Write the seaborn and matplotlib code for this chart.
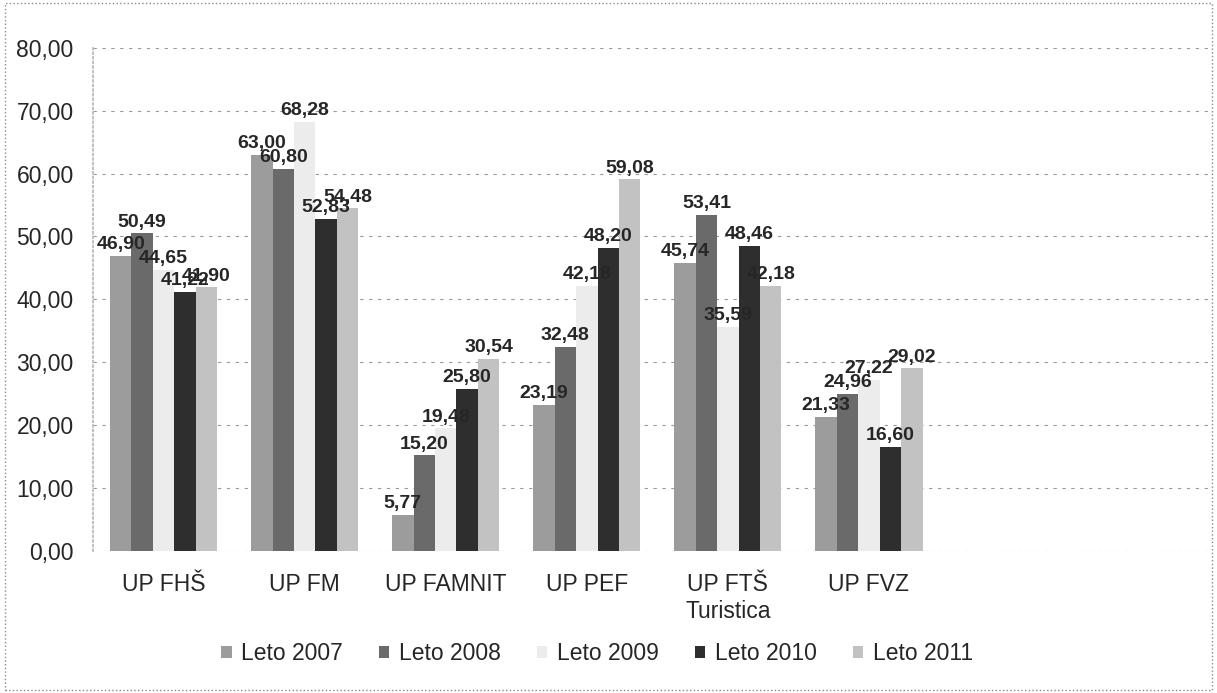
import pandas as pd
import seaborn as sns
import matplotlib.pyplot as plt
from matplotlib.patches import Rectangle

# podatki
fakultete = ["UP FHŠ", "UP FM", "UP FAMNIT", "UP PEF", "UP FTŠ\nTuristica", "UP FVZ"]
leta = ["Leto 2007", "Leto 2008", "Leto 2009", "Leto 2010", "Leto 2011"]
leto_2007 = [46.90, 63.00, 5.77, 23.19, 45.74, 21.33]
leto_2008 = [50.49, 60.80, 15.20, 32.48, 53.41, 24.96]
leto_2009 = [44.65, 68.28, 19.48, 42.18, 35.59, 27.22]
leto_2010 = [41.22, 52.83, 25.80, 48.20, 48.46, 16.60]
leto_2011 = [41.90, 54.48, 30.54, 59.08, 42.18, 29.02]
barve = ["#9c9c9c", "#6a6a6a", "#ececec", "#2e2e2e", "#c2c2c2"]

vrednosti = [leto_2007, leto_2008, leto_2009, leto_2010, leto_2011]
rows = []
for leto, vals in zip(leta, vrednosti):
    for fak, v in zip(fakultete, vals):
        rows.append({"Fakulteta": fak, "Leto": leto, "Vrednost": v})
df = pd.DataFrame(rows)

sns.set_theme(style="white")
plt.rcParams['font.family'] = ['Liberation Sans', 'DejaVu Sans']

fig = plt.figure(figsize=(12.17, 6.93), dpi=100)
ax = fig.add_axes([0.0765, 0.205, 0.918, 0.726])

sns.barplot(data=df, x="Fakulteta", y="Vrednost", hue="Leto", order=fakultete,
            hue_order=leta, palette=barve, width=0.76, ax=ax, legend=True,
            edgecolor="none", saturation=1)

# oznake nad stolpci
for cont in ax.containers:
    lab = [f"{b.get_height():.2f}".replace(".", ",") for b in cont]
    ax.bar_label(cont, labels=lab, fontsize=14, fontweight="bold", padding=2, clip_on=False)

ax.set_xlim(-0.5, 7.42)
ax.set_ylim(0, 80)
ax.set_yticks(range(0, 81, 10))
ax.set_yticklabels([f"{t:.2f}".replace(".", ",") for t in range(0, 81, 10)], fontsize=16.5)
ax.set_xlabel("")
ax.set_ylabel("")
ax.tick_params(axis="x", labelsize=16.5, length=0, pad=16)
ax.tick_params(axis="y", length=0, pad=14)

ax.yaxis.grid(True, linestyle=(0, (3, 5)), color="#9a9a9a", linewidth=0.8)
ax.set_axisbelow(True)
for s in ["top", "right", "bottom"]:
    ax.spines[s].set_visible(False)
ax.spines["left"].set_color("#b8b8b8")
ax.spines["left"].set_linestyle(":")

leg = ax.legend(loc="center", bbox_to_anchor=(597 / 1217, 1 - 654 / 693),
                bbox_transform=fig.transFigure, ncol=5, frameon=False, fontsize=16.5,
                handlelength=0.45, handleheight=0.45, columnspacing=1.6, handletextpad=0.4)

fig.patches.append(Rectangle((0.004, 0.004), 0.992, 0.992, transform=fig.transFigure,
                             fill=False, edgecolor="#8a8a8a", linestyle=":", linewidth=1))

fig.savefig("out.png", dpi=100)
